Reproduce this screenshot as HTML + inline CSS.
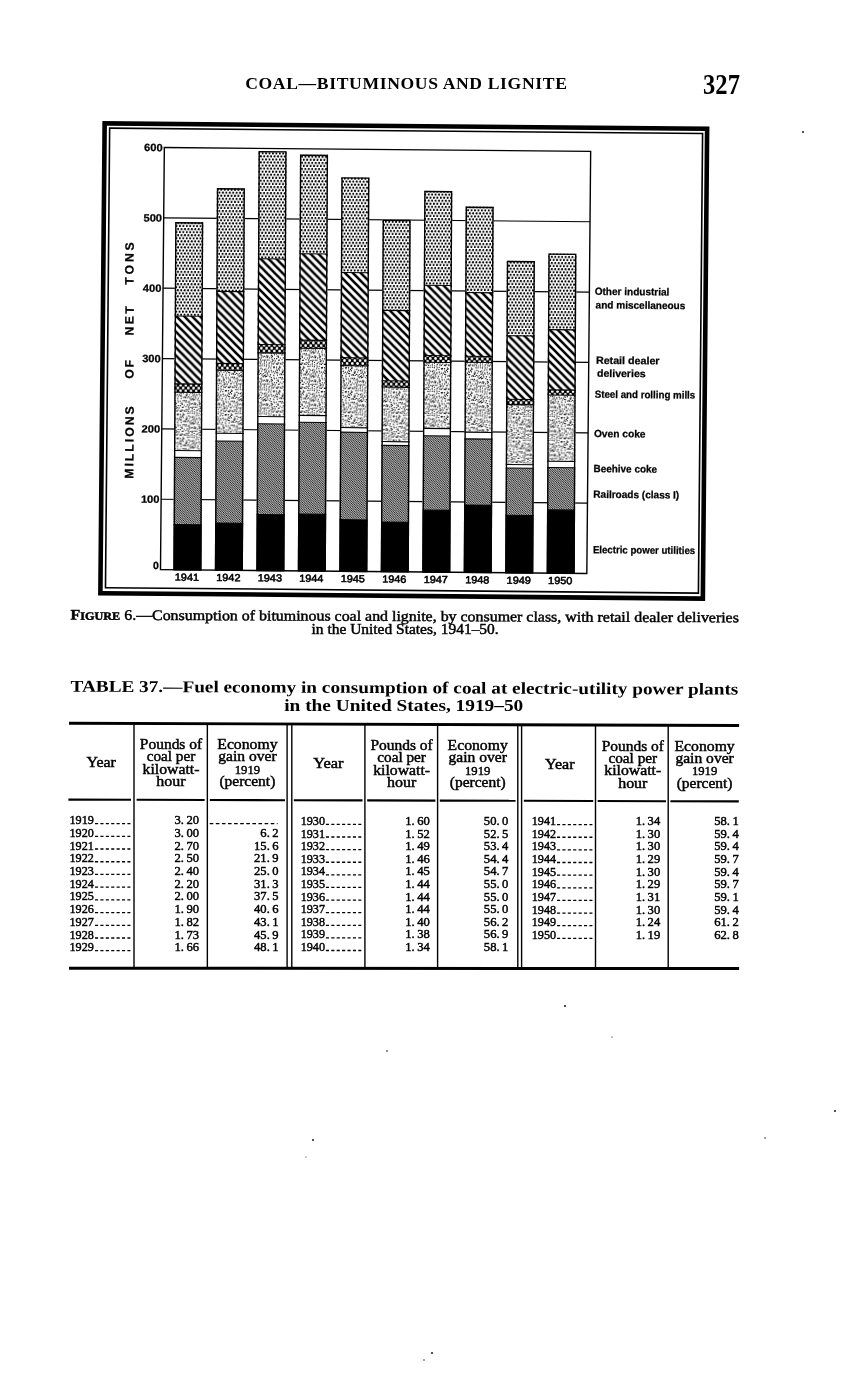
<!DOCTYPE html>
<html><head><meta charset="utf-8"><title>Coal — Bituminous and Lignite</title>
<style>
html,body{margin:0;padding:0;background:#fff;}
body{width:858px;height:1380px;overflow:hidden;}
svg{display:block;}
text{fill:#000;font-family:'Liberation Serif', 'DejaVu Serif', serif;}
text.s{font-family:'Liberation Sans', 'DejaVu Sans', sans-serif;}
text.m{stroke:#000;stroke-width:0.45px;}
text.s{stroke:#000;stroke-width:0.25px;}
text.sn{font-family:'Liberation Sans', 'DejaVu Sans', sans-serif;font-weight:normal;stroke:#000;stroke-width:0.55px;}
</style></head><body>
<svg width="858" height="1380" viewBox="0 0 858 1380">
<defs><pattern id="pDots" patternUnits="userSpaceOnUse" width="3.43" height="6.12">
<circle cx="0.86" cy="1.53" r="1.1" fill="#000"/><circle cx="2.575" cy="4.59" r="1.1" fill="#000"/></pattern><pattern id="pHatch" patternUnits="userSpaceOnUse" width="7.9" height="7.9">
<path d="M-2,-2 L9.9,9.9 M5.9,-2 L9.9,2 M-2,5.9 L2,9.9" stroke="#000" stroke-width="2.6" fill="none"/></pattern><pattern id="pCross" patternUnits="userSpaceOnUse" width="5.2" height="5.8">
<rect width="5.2" height="5.8" fill="#000"/><circle cx="1.3" cy="1.45" r="1.35" fill="#fff"/><circle cx="3.9" cy="4.35" r="1.35" fill="#fff"/></pattern><pattern id="pStip" patternUnits="userSpaceOnUse" width="24" height="24"><circle cx="1.01" cy="1.20" r="0.71" fill="#000"/><circle cx="3.21" cy="1.10" r="0.65" fill="#000"/><circle cx="4.90" cy="1.11" r="0.66" fill="#000"/><circle cx="8.15" cy="0.38" r="0.60" fill="#000"/><circle cx="8.15" cy="24.38" r="0.60" fill="#000"/><circle cx="9.10" cy="1.63" r="0.67" fill="#000"/><circle cx="11.20" cy="1.93" r="0.71" fill="#000"/><circle cx="14.45" cy="1.29" r="0.58" fill="#000"/><circle cx="15.52" cy="1.14" r="0.56" fill="#000"/><circle cx="18.00" cy="0.64" r="0.56" fill="#000"/><circle cx="18.00" cy="24.64" r="0.56" fill="#000"/><circle cx="20.66" cy="0.99" r="0.69" fill="#000"/><circle cx="20.66" cy="24.99" r="0.69" fill="#000"/><circle cx="22.94" cy="1.34" r="0.63" fill="#000"/><circle cx="2.47" cy="3.20" r="0.60" fill="#000"/><circle cx="5.23" cy="4.14" r="0.69" fill="#000"/><circle cx="6.91" cy="2.95" r="0.59" fill="#000"/><circle cx="8.36" cy="2.52" r="0.68" fill="#000"/><circle cx="10.74" cy="3.88" r="0.62" fill="#000"/><circle cx="13.89" cy="3.88" r="0.55" fill="#000"/><circle cx="14.77" cy="3.99" r="0.63" fill="#000"/><circle cx="18.29" cy="3.09" r="0.56" fill="#000"/><circle cx="19.86" cy="3.76" r="0.60" fill="#000"/><circle cx="21.10" cy="2.98" r="0.71" fill="#000"/><circle cx="0.45" cy="2.61" r="0.59" fill="#000"/><circle cx="24.45" cy="2.61" r="0.59" fill="#000"/><circle cx="0.39" cy="4.69" r="0.69" fill="#000"/><circle cx="24.39" cy="4.69" r="0.69" fill="#000"/><circle cx="2.71" cy="5.56" r="0.63" fill="#000"/><circle cx="4.91" cy="5.86" r="0.57" fill="#000"/><circle cx="7.89" cy="4.79" r="0.62" fill="#000"/><circle cx="9.32" cy="5.05" r="0.72" fill="#000"/><circle cx="12.53" cy="5.11" r="0.70" fill="#000"/><circle cx="13.68" cy="5.27" r="0.70" fill="#000"/><circle cx="16.61" cy="4.76" r="0.72" fill="#000"/><circle cx="18.04" cy="5.03" r="0.68" fill="#000"/><circle cx="20.43" cy="5.10" r="0.56" fill="#000"/><circle cx="22.19" cy="5.60" r="0.59" fill="#000"/><circle cx="2.36" cy="7.41" r="0.63" fill="#000"/><circle cx="5.17" cy="7.61" r="0.65" fill="#000"/><circle cx="7.19" cy="7.08" r="0.58" fill="#000"/><circle cx="9.44" cy="8.19" r="0.59" fill="#000"/><circle cx="10.37" cy="8.05" r="0.71" fill="#000"/><circle cx="12.56" cy="8.42" r="0.70" fill="#000"/><circle cx="15.45" cy="7.50" r="0.57" fill="#000"/><circle cx="16.65" cy="8.44" r="0.59" fill="#000"/><circle cx="19.99" cy="7.21" r="0.69" fill="#000"/><circle cx="21.99" cy="7.28" r="0.58" fill="#000"/><circle cx="0.38" cy="6.88" r="0.59" fill="#000"/><circle cx="24.38" cy="6.88" r="0.59" fill="#000"/><circle cx="1.19" cy="10.43" r="0.65" fill="#000"/><circle cx="2.89" cy="10.55" r="0.58" fill="#000"/><circle cx="4.61" cy="9.42" r="0.63" fill="#000"/><circle cx="6.87" cy="9.25" r="0.61" fill="#000"/><circle cx="9.94" cy="9.18" r="0.61" fill="#000"/><circle cx="12.68" cy="10.66" r="0.66" fill="#000"/><circle cx="14.52" cy="9.97" r="0.57" fill="#000"/><circle cx="15.55" cy="8.98" r="0.70" fill="#000"/><circle cx="18.90" cy="10.63" r="0.55" fill="#000"/><circle cx="20.96" cy="9.79" r="0.67" fill="#000"/><circle cx="22.59" cy="10.69" r="0.56" fill="#000"/><circle cx="2.26" cy="12.41" r="0.70" fill="#000"/><circle cx="4.78" cy="12.36" r="0.68" fill="#000"/><circle cx="7.27" cy="11.74" r="0.67" fill="#000"/><circle cx="9.43" cy="12.65" r="0.62" fill="#000"/><circle cx="11.42" cy="12.63" r="0.65" fill="#000"/><circle cx="13.31" cy="11.79" r="0.65" fill="#000"/><circle cx="15.46" cy="11.27" r="0.66" fill="#000"/><circle cx="18.32" cy="12.66" r="0.67" fill="#000"/><circle cx="19.44" cy="12.41" r="0.65" fill="#000"/><circle cx="21.71" cy="12.59" r="0.56" fill="#000"/><circle cx="0.44" cy="11.18" r="0.65" fill="#000"/><circle cx="24.44" cy="11.18" r="0.65" fill="#000"/><circle cx="1.06" cy="13.71" r="0.67" fill="#000"/><circle cx="3.27" cy="14.38" r="0.71" fill="#000"/><circle cx="5.03" cy="13.33" r="0.60" fill="#000"/><circle cx="7.95" cy="13.66" r="0.58" fill="#000"/><circle cx="10.53" cy="14.46" r="0.63" fill="#000"/><circle cx="12.68" cy="13.88" r="0.66" fill="#000"/><circle cx="13.66" cy="14.06" r="0.69" fill="#000"/><circle cx="17.09" cy="14.85" r="0.62" fill="#000"/><circle cx="18.69" cy="13.86" r="0.57" fill="#000"/><circle cx="20.72" cy="14.77" r="0.69" fill="#000"/><circle cx="-0.72" cy="14.97" r="0.60" fill="#000"/><circle cx="23.28" cy="14.97" r="0.60" fill="#000"/><circle cx="1.60" cy="16.28" r="0.60" fill="#000"/><circle cx="3.86" cy="16.21" r="0.66" fill="#000"/><circle cx="6.53" cy="16.04" r="0.69" fill="#000"/><circle cx="9.57" cy="16.28" r="0.56" fill="#000"/><circle cx="10.09" cy="17.01" r="0.56" fill="#000"/><circle cx="13.46" cy="16.49" r="0.60" fill="#000"/><circle cx="15.78" cy="15.52" r="0.57" fill="#000"/><circle cx="17.38" cy="15.53" r="0.69" fill="#000"/><circle cx="19.18" cy="15.74" r="0.56" fill="#000"/><circle cx="22.04" cy="16.27" r="0.66" fill="#000"/><circle cx="0.27" cy="16.90" r="0.71" fill="#000"/><circle cx="24.27" cy="16.90" r="0.71" fill="#000"/><circle cx="1.41" cy="18.02" r="0.63" fill="#000"/><circle cx="2.71" cy="17.69" r="0.63" fill="#000"/><circle cx="5.83" cy="17.99" r="0.60" fill="#000"/><circle cx="7.37" cy="18.89" r="0.64" fill="#000"/><circle cx="10.02" cy="18.99" r="0.62" fill="#000"/><circle cx="12.51" cy="19.25" r="0.56" fill="#000"/><circle cx="14.94" cy="18.93" r="0.57" fill="#000"/><circle cx="16.28" cy="18.76" r="0.70" fill="#000"/><circle cx="18.33" cy="18.67" r="0.70" fill="#000"/><circle cx="21.25" cy="19.32" r="0.63" fill="#000"/><circle cx="-0.83" cy="18.03" r="0.67" fill="#000"/><circle cx="23.17" cy="18.03" r="0.67" fill="#000"/><circle cx="2.74" cy="20.97" r="0.67" fill="#000"/><circle cx="3.86" cy="21.43" r="0.72" fill="#000"/><circle cx="7.38" cy="20.79" r="0.68" fill="#000"/><circle cx="8.41" cy="21.44" r="0.70" fill="#000"/><circle cx="10.64" cy="20.00" r="0.62" fill="#000"/><circle cx="13.18" cy="21.20" r="0.63" fill="#000"/><circle cx="14.45" cy="21.27" r="0.56" fill="#000"/><circle cx="17.98" cy="20.16" r="0.61" fill="#000"/><circle cx="20.14" cy="20.10" r="0.58" fill="#000"/><circle cx="21.85" cy="21.12" r="0.69" fill="#000"/><circle cx="0.33" cy="21.51" r="0.63" fill="#000"/><circle cx="24.33" cy="21.51" r="0.63" fill="#000"/><circle cx="1.87" cy="22.19" r="0.59" fill="#000"/><circle cx="3.32" cy="22.54" r="0.67" fill="#000"/><circle cx="5.70" cy="22.95" r="0.69" fill="#000"/><circle cx="7.74" cy="22.58" r="0.61" fill="#000"/><circle cx="10.42" cy="-0.39" r="0.59" fill="#000"/><circle cx="10.42" cy="23.61" r="0.59" fill="#000"/><circle cx="12.61" cy="-0.27" r="0.64" fill="#000"/><circle cx="12.61" cy="23.73" r="0.64" fill="#000"/><circle cx="14.31" cy="22.39" r="0.64" fill="#000"/><circle cx="16.37" cy="-0.91" r="0.55" fill="#000"/><circle cx="16.37" cy="23.09" r="0.55" fill="#000"/><circle cx="19.36" cy="22.94" r="0.62" fill="#000"/><circle cx="21.25" cy="-0.98" r="0.63" fill="#000"/><circle cx="21.25" cy="23.02" r="0.63" fill="#000"/><circle cx="-0.76" cy="22.15" r="0.64" fill="#000"/><circle cx="23.24" cy="22.15" r="0.64" fill="#000"/></pattern><pattern id="pFine" patternUnits="userSpaceOnUse" width="2.3" height="2.3">
<rect width="2.3" height="2.3" fill="#fff"/><path d="M-1,-1 L3.3,3.3 M1.3,-1 L3.3,1 M-1,1.3 L1,3.3" stroke="#000" stroke-width="0.9" fill="none"/></pattern></defs>
<rect width="858" height="1380" fill="#fff"/>
<text x="245.2" y="89.0" font-size="17.6" font-weight="bold" textLength="321.7" lengthAdjust="spacing">COAL—BITUMINOUS AND LIGNITE</text>
<text x="703.10" y="93.60" font-size="29.6" font-weight="bold" textLength="36.80" lengthAdjust="spacingAndGlyphs">327</text>
<g transform="rotate(0.52 403.75 361.0)"><rect x="102.50" y="126.05" width="602.50" height="469.85" fill="none" stroke="#000" stroke-width="4.6"/>
<rect x="107.55" y="130.85" width="592.95" height="459.55" fill="none" stroke="#000" stroke-width="1.6"/>
<line x1="162.4" y1="501.45" x2="588.75" y2="501.45" stroke="#000" stroke-width="1.2"/>
<line x1="162.4" y1="431.10" x2="588.75" y2="431.10" stroke="#000" stroke-width="1.2"/>
<line x1="162.4" y1="360.75" x2="588.75" y2="360.75" stroke="#000" stroke-width="1.2"/>
<line x1="162.4" y1="290.40" x2="588.75" y2="290.40" stroke="#000" stroke-width="1.2"/>
<line x1="162.4" y1="220.05" x2="588.75" y2="220.05" stroke="#000" stroke-width="1.2"/>
<g transform="matrix(1,0,0.003840,1,-1.3861,0)">
<rect x="174.45" y="224.15" width="28.1" height="347.65" fill="#fff"/>
<rect x="174.45" y="224.15" width="28.1" height="94.00" fill="url(#pDots)"/>
<rect x="174.45" y="318.15" width="28.1" height="67.80" fill="url(#pHatch)"/>
<rect x="174.45" y="385.95" width="28.1" height="8.40" fill="url(#pCross)"/>
<rect x="174.45" y="394.35" width="28.1" height="58.20" fill="url(#pStip)"/>
<rect x="174.45" y="452.55" width="28.1" height="6.90" fill="#fff"/>
<rect x="174.45" y="459.45" width="28.1" height="67.10" fill="url(#pFine)"/>
<rect x="174.45" y="526.55" width="28.1" height="45.25" fill="#000"/>
<line x1="174.45" y1="318.15" x2="202.55" y2="318.15" stroke="#000" stroke-width="1.1"/>
<line x1="174.45" y1="385.95" x2="202.55" y2="385.95" stroke="#000" stroke-width="1.1"/>
<line x1="174.45" y1="394.35" x2="202.55" y2="394.35" stroke="#000" stroke-width="1.1"/>
<line x1="174.45" y1="452.55" x2="202.55" y2="452.55" stroke="#000" stroke-width="1.1"/>
<line x1="174.45" y1="459.45" x2="202.55" y2="459.45" stroke="#000" stroke-width="1.1"/>
<line x1="174.45" y1="526.55" x2="202.55" y2="526.55" stroke="#000" stroke-width="1.1"/>
<rect x="175.15" y="224.85" width="26.70" height="346.95" fill="none" stroke="#000" stroke-width="1.4"/>
<rect x="215.93" y="189.78" width="28.1" height="382.02" fill="#fff"/>
<rect x="215.93" y="189.78" width="28.1" height="103.30" fill="url(#pDots)"/>
<rect x="215.93" y="293.08" width="28.1" height="72.00" fill="url(#pHatch)"/>
<rect x="215.93" y="365.08" width="28.1" height="6.90" fill="url(#pCross)"/>
<rect x="215.93" y="371.98" width="28.1" height="63.00" fill="url(#pStip)"/>
<rect x="215.93" y="434.98" width="28.1" height="7.70" fill="#fff"/>
<rect x="215.93" y="442.68" width="28.1" height="82.00" fill="url(#pFine)"/>
<rect x="215.93" y="524.68" width="28.1" height="47.12" fill="#000"/>
<line x1="215.93" y1="293.08" x2="244.03" y2="293.08" stroke="#000" stroke-width="1.1"/>
<line x1="215.93" y1="365.08" x2="244.03" y2="365.08" stroke="#000" stroke-width="1.1"/>
<line x1="215.93" y1="371.98" x2="244.03" y2="371.98" stroke="#000" stroke-width="1.1"/>
<line x1="215.93" y1="434.98" x2="244.03" y2="434.98" stroke="#000" stroke-width="1.1"/>
<line x1="215.93" y1="442.68" x2="244.03" y2="442.68" stroke="#000" stroke-width="1.1"/>
<line x1="215.93" y1="524.68" x2="244.03" y2="524.68" stroke="#000" stroke-width="1.1"/>
<rect x="216.63" y="190.48" width="26.70" height="381.32" fill="none" stroke="#000" stroke-width="1.4"/>
<rect x="257.41" y="152.30" width="28.1" height="419.50" fill="#fff"/>
<rect x="257.41" y="152.30" width="28.1" height="107.80" fill="url(#pDots)"/>
<rect x="257.41" y="260.10" width="28.1" height="85.70" fill="url(#pHatch)"/>
<rect x="257.41" y="345.80" width="28.1" height="8.40" fill="url(#pCross)"/>
<rect x="257.41" y="354.20" width="28.1" height="63.60" fill="url(#pStip)"/>
<rect x="257.41" y="417.80" width="28.1" height="7.30" fill="#fff"/>
<rect x="257.41" y="425.10" width="28.1" height="90.80" fill="url(#pFine)"/>
<rect x="257.41" y="515.90" width="28.1" height="55.90" fill="#000"/>
<line x1="257.41" y1="260.10" x2="285.51" y2="260.10" stroke="#000" stroke-width="1.1"/>
<line x1="257.41" y1="345.80" x2="285.51" y2="345.80" stroke="#000" stroke-width="1.1"/>
<line x1="257.41" y1="354.20" x2="285.51" y2="354.20" stroke="#000" stroke-width="1.1"/>
<line x1="257.41" y1="417.80" x2="285.51" y2="417.80" stroke="#000" stroke-width="1.1"/>
<line x1="257.41" y1="425.10" x2="285.51" y2="425.10" stroke="#000" stroke-width="1.1"/>
<line x1="257.41" y1="515.90" x2="285.51" y2="515.90" stroke="#000" stroke-width="1.1"/>
<rect x="258.11" y="153.00" width="26.70" height="418.80" fill="none" stroke="#000" stroke-width="1.4"/>
<rect x="298.89" y="155.52" width="28.1" height="416.28" fill="#fff"/>
<rect x="298.89" y="155.52" width="28.1" height="99.20" fill="url(#pDots)"/>
<rect x="298.89" y="254.72" width="28.1" height="86.40" fill="url(#pHatch)"/>
<rect x="298.89" y="341.12" width="28.1" height="8.10" fill="url(#pCross)"/>
<rect x="298.89" y="349.22" width="28.1" height="67.10" fill="url(#pStip)"/>
<rect x="298.89" y="416.32" width="28.1" height="6.90" fill="#fff"/>
<rect x="298.89" y="423.22" width="28.1" height="91.70" fill="url(#pFine)"/>
<rect x="298.89" y="514.92" width="28.1" height="56.88" fill="#000"/>
<line x1="298.89" y1="254.72" x2="326.99" y2="254.72" stroke="#000" stroke-width="1.1"/>
<line x1="298.89" y1="341.12" x2="326.99" y2="341.12" stroke="#000" stroke-width="1.1"/>
<line x1="298.89" y1="349.22" x2="326.99" y2="349.22" stroke="#000" stroke-width="1.1"/>
<line x1="298.89" y1="416.32" x2="326.99" y2="416.32" stroke="#000" stroke-width="1.1"/>
<line x1="298.89" y1="423.22" x2="326.99" y2="423.22" stroke="#000" stroke-width="1.1"/>
<line x1="298.89" y1="514.92" x2="326.99" y2="514.92" stroke="#000" stroke-width="1.1"/>
<rect x="299.59" y="156.22" width="26.70" height="415.58" fill="none" stroke="#000" stroke-width="1.4"/>
<rect x="340.37" y="177.75" width="28.1" height="394.05" fill="#fff"/>
<rect x="340.37" y="177.75" width="28.1" height="95.30" fill="url(#pDots)"/>
<rect x="340.37" y="273.05" width="28.1" height="85.20" fill="url(#pHatch)"/>
<rect x="340.37" y="358.25" width="28.1" height="8.00" fill="url(#pCross)"/>
<rect x="340.37" y="366.25" width="28.1" height="61.90" fill="url(#pStip)"/>
<rect x="340.37" y="428.15" width="28.1" height="4.60" fill="#fff"/>
<rect x="340.37" y="432.75" width="28.1" height="87.50" fill="url(#pFine)"/>
<rect x="340.37" y="520.25" width="28.1" height="51.55" fill="#000"/>
<line x1="340.37" y1="273.05" x2="368.47" y2="273.05" stroke="#000" stroke-width="1.1"/>
<line x1="340.37" y1="358.25" x2="368.47" y2="358.25" stroke="#000" stroke-width="1.1"/>
<line x1="340.37" y1="366.25" x2="368.47" y2="366.25" stroke="#000" stroke-width="1.1"/>
<line x1="340.37" y1="428.15" x2="368.47" y2="428.15" stroke="#000" stroke-width="1.1"/>
<line x1="340.37" y1="432.75" x2="368.47" y2="432.75" stroke="#000" stroke-width="1.1"/>
<line x1="340.37" y1="520.25" x2="368.47" y2="520.25" stroke="#000" stroke-width="1.1"/>
<rect x="341.07" y="178.45" width="26.70" height="393.35" fill="none" stroke="#000" stroke-width="1.4"/>
<rect x="381.85" y="219.77" width="28.1" height="352.03" fill="#fff"/>
<rect x="381.85" y="219.77" width="28.1" height="90.80" fill="url(#pDots)"/>
<rect x="381.85" y="310.57" width="28.1" height="70.40" fill="url(#pHatch)"/>
<rect x="381.85" y="380.97" width="28.1" height="6.30" fill="url(#pCross)"/>
<rect x="381.85" y="387.27" width="28.1" height="54.50" fill="url(#pStip)"/>
<rect x="381.85" y="441.77" width="28.1" height="3.80" fill="#fff"/>
<rect x="381.85" y="445.57" width="28.1" height="76.60" fill="url(#pFine)"/>
<rect x="381.85" y="522.17" width="28.1" height="49.63" fill="#000"/>
<line x1="381.85" y1="310.57" x2="409.95" y2="310.57" stroke="#000" stroke-width="1.1"/>
<line x1="381.85" y1="380.97" x2="409.95" y2="380.97" stroke="#000" stroke-width="1.1"/>
<line x1="381.85" y1="387.27" x2="409.95" y2="387.27" stroke="#000" stroke-width="1.1"/>
<line x1="381.85" y1="441.77" x2="409.95" y2="441.77" stroke="#000" stroke-width="1.1"/>
<line x1="381.85" y1="445.57" x2="409.95" y2="445.57" stroke="#000" stroke-width="1.1"/>
<line x1="381.85" y1="522.17" x2="409.95" y2="522.17" stroke="#000" stroke-width="1.1"/>
<rect x="382.55" y="220.47" width="26.70" height="351.33" fill="none" stroke="#000" stroke-width="1.4"/>
<rect x="423.33" y="190.69" width="28.1" height="381.11" fill="#fff"/>
<rect x="423.33" y="190.69" width="28.1" height="94.40" fill="url(#pDots)"/>
<rect x="423.33" y="285.09" width="28.1" height="70.30" fill="url(#pHatch)"/>
<rect x="423.33" y="355.39" width="28.1" height="6.70" fill="url(#pCross)"/>
<rect x="423.33" y="362.09" width="28.1" height="66.10" fill="url(#pStip)"/>
<rect x="423.33" y="428.19" width="28.1" height="7.40" fill="#fff"/>
<rect x="423.33" y="435.59" width="28.1" height="74.40" fill="url(#pFine)"/>
<rect x="423.33" y="509.99" width="28.1" height="61.81" fill="#000"/>
<line x1="423.33" y1="285.09" x2="451.43" y2="285.09" stroke="#000" stroke-width="1.1"/>
<line x1="423.33" y1="355.39" x2="451.43" y2="355.39" stroke="#000" stroke-width="1.1"/>
<line x1="423.33" y1="362.09" x2="451.43" y2="362.09" stroke="#000" stroke-width="1.1"/>
<line x1="423.33" y1="428.19" x2="451.43" y2="428.19" stroke="#000" stroke-width="1.1"/>
<line x1="423.33" y1="435.59" x2="451.43" y2="435.59" stroke="#000" stroke-width="1.1"/>
<line x1="423.33" y1="509.99" x2="451.43" y2="509.99" stroke="#000" stroke-width="1.1"/>
<rect x="424.03" y="191.39" width="26.70" height="380.41" fill="none" stroke="#000" stroke-width="1.4"/>
<rect x="464.81" y="206.02" width="28.1" height="365.78" fill="#fff"/>
<rect x="464.81" y="206.02" width="28.1" height="86.00" fill="url(#pDots)"/>
<rect x="464.81" y="292.02" width="28.1" height="63.70" fill="url(#pHatch)"/>
<rect x="464.81" y="355.72" width="28.1" height="6.00" fill="url(#pCross)"/>
<rect x="464.81" y="361.72" width="28.1" height="69.90" fill="url(#pStip)"/>
<rect x="464.81" y="431.62" width="28.1" height="6.70" fill="#fff"/>
<rect x="464.81" y="438.32" width="28.1" height="66.10" fill="url(#pFine)"/>
<rect x="464.81" y="504.42" width="28.1" height="67.38" fill="#000"/>
<line x1="464.81" y1="292.02" x2="492.91" y2="292.02" stroke="#000" stroke-width="1.1"/>
<line x1="464.81" y1="355.72" x2="492.91" y2="355.72" stroke="#000" stroke-width="1.1"/>
<line x1="464.81" y1="361.72" x2="492.91" y2="361.72" stroke="#000" stroke-width="1.1"/>
<line x1="464.81" y1="431.62" x2="492.91" y2="431.62" stroke="#000" stroke-width="1.1"/>
<line x1="464.81" y1="438.32" x2="492.91" y2="438.32" stroke="#000" stroke-width="1.1"/>
<line x1="464.81" y1="504.42" x2="492.91" y2="504.42" stroke="#000" stroke-width="1.1"/>
<rect x="465.51" y="206.72" width="26.70" height="365.08" fill="none" stroke="#000" stroke-width="1.4"/>
<rect x="506.29" y="259.84" width="28.1" height="311.96" fill="#fff"/>
<rect x="506.29" y="259.84" width="28.1" height="75.00" fill="url(#pDots)"/>
<rect x="506.29" y="334.84" width="28.1" height="63.50" fill="url(#pHatch)"/>
<rect x="506.29" y="398.34" width="28.1" height="5.30" fill="url(#pCross)"/>
<rect x="506.29" y="403.64" width="28.1" height="59.90" fill="url(#pStip)"/>
<rect x="506.29" y="463.54" width="28.1" height="3.50" fill="#fff"/>
<rect x="506.29" y="467.04" width="28.1" height="47.30" fill="url(#pFine)"/>
<rect x="506.29" y="514.34" width="28.1" height="57.46" fill="#000"/>
<line x1="506.29" y1="334.84" x2="534.39" y2="334.84" stroke="#000" stroke-width="1.1"/>
<line x1="506.29" y1="398.34" x2="534.39" y2="398.34" stroke="#000" stroke-width="1.1"/>
<line x1="506.29" y1="403.64" x2="534.39" y2="403.64" stroke="#000" stroke-width="1.1"/>
<line x1="506.29" y1="463.54" x2="534.39" y2="463.54" stroke="#000" stroke-width="1.1"/>
<line x1="506.29" y1="467.04" x2="534.39" y2="467.04" stroke="#000" stroke-width="1.1"/>
<line x1="506.29" y1="514.34" x2="534.39" y2="514.34" stroke="#000" stroke-width="1.1"/>
<rect x="506.99" y="260.54" width="26.70" height="311.26" fill="none" stroke="#000" stroke-width="1.4"/>
<rect x="547.77" y="252.07" width="28.1" height="319.73" fill="#fff"/>
<rect x="547.77" y="252.07" width="28.1" height="76.20" fill="url(#pDots)"/>
<rect x="547.77" y="328.27" width="28.1" height="60.30" fill="url(#pHatch)"/>
<rect x="547.77" y="388.57" width="28.1" height="5.10" fill="url(#pCross)"/>
<rect x="547.77" y="393.67" width="28.1" height="66.20" fill="url(#pStip)"/>
<rect x="547.77" y="459.87" width="28.1" height="6.30" fill="#fff"/>
<rect x="547.77" y="466.17" width="28.1" height="42.40" fill="url(#pFine)"/>
<rect x="547.77" y="508.57" width="28.1" height="63.23" fill="#000"/>
<line x1="547.77" y1="328.27" x2="575.87" y2="328.27" stroke="#000" stroke-width="1.1"/>
<line x1="547.77" y1="388.57" x2="575.87" y2="388.57" stroke="#000" stroke-width="1.1"/>
<line x1="547.77" y1="393.67" x2="575.87" y2="393.67" stroke="#000" stroke-width="1.1"/>
<line x1="547.77" y1="459.87" x2="575.87" y2="459.87" stroke="#000" stroke-width="1.1"/>
<line x1="547.77" y1="466.17" x2="575.87" y2="466.17" stroke="#000" stroke-width="1.1"/>
<line x1="547.77" y1="508.57" x2="575.87" y2="508.57" stroke="#000" stroke-width="1.1"/>
<rect x="548.47" y="252.77" width="26.70" height="319.03" fill="none" stroke="#000" stroke-width="1.4"/>
</g>
<rect x="162.4" y="149.7" width="426.35" height="422.10" fill="none" stroke="#000" stroke-width="1.4"/>
<text x="160.80" y="571.40" font-size="10.5" font-weight="bold" class="s" text-anchor="end" textLength="5.80" lengthAdjust="spacingAndGlyphs">0</text>
<text x="160.80" y="505.15" font-size="10.5" font-weight="bold" class="s" text-anchor="end" textLength="18.60" lengthAdjust="spacingAndGlyphs">100</text>
<text x="160.80" y="434.80" font-size="10.5" font-weight="bold" class="s" text-anchor="end" textLength="18.60" lengthAdjust="spacingAndGlyphs">200</text>
<text x="160.80" y="364.45" font-size="10.5" font-weight="bold" class="s" text-anchor="end" textLength="18.60" lengthAdjust="spacingAndGlyphs">300</text>
<text x="160.80" y="294.10" font-size="10.5" font-weight="bold" class="s" text-anchor="end" textLength="18.60" lengthAdjust="spacingAndGlyphs">400</text>
<text x="160.80" y="223.75" font-size="10.5" font-weight="bold" class="s" text-anchor="end" textLength="18.60" lengthAdjust="spacingAndGlyphs">500</text>
<text x="160.80" y="153.40" font-size="10.5" font-weight="bold" class="s" text-anchor="end" textLength="18.60" lengthAdjust="spacingAndGlyphs">600</text>
<text x="176.80" y="582.70" font-size="10.3" class="sn" textLength="24.20" lengthAdjust="spacingAndGlyphs">1941</text>
<text x="218.28" y="582.70" font-size="10.3" class="sn" textLength="24.20" lengthAdjust="spacingAndGlyphs">1942</text>
<text x="259.76" y="582.70" font-size="10.3" class="sn" textLength="24.20" lengthAdjust="spacingAndGlyphs">1943</text>
<text x="301.24" y="582.70" font-size="10.3" class="sn" textLength="24.20" lengthAdjust="spacingAndGlyphs">1944</text>
<text x="342.72" y="582.70" font-size="10.3" class="sn" textLength="24.20" lengthAdjust="spacingAndGlyphs">1945</text>
<text x="384.20" y="582.70" font-size="10.3" class="sn" textLength="24.20" lengthAdjust="spacingAndGlyphs">1946</text>
<text x="425.68" y="582.70" font-size="10.3" class="sn" textLength="24.20" lengthAdjust="spacingAndGlyphs">1947</text>
<text x="467.16" y="582.70" font-size="10.3" class="sn" textLength="24.20" lengthAdjust="spacingAndGlyphs">1948</text>
<text x="508.64" y="582.70" font-size="10.3" class="sn" textLength="24.20" lengthAdjust="spacingAndGlyphs">1949</text>
<text x="550.12" y="582.70" font-size="10.3" class="sn" textLength="24.20" lengthAdjust="spacingAndGlyphs">1950</text>
<text transform="translate(134.34,481.19) rotate(-90)" x="0" y="0" font-size="12.2" font-weight="bold" class="s" textLength="72.50" lengthAdjust="spacing">MILLIONS</text>
<text transform="translate(133.68,381.29) rotate(-90)" x="0" y="0" font-size="12.2" font-weight="bold" class="s" textLength="18.80" lengthAdjust="spacing">OF</text>
<text transform="translate(133.24,337.99) rotate(-90)" x="0" y="0" font-size="12.2" font-weight="bold" class="s" textLength="29.20" lengthAdjust="spacing">NET</text>
<text transform="translate(132.71,287.09) rotate(-90)" x="0" y="0" font-size="12.2" font-weight="bold" class="s" textLength="42.40" lengthAdjust="spacing">TONS</text>
<text x="594.10" y="293.13" font-size="10.4" font-weight="bold" class="s" textLength="74.70" lengthAdjust="spacingAndGlyphs">Other industrial</text>
<text x="595.13" y="306.65" font-size="10.4" font-weight="bold" class="s" textLength="89.70" lengthAdjust="spacingAndGlyphs">and miscellaneous</text>
<text x="595.93" y="362.07" font-size="10.4" font-weight="bold" class="s" textLength="63.60" lengthAdjust="spacingAndGlyphs">Retail dealer</text>
<text x="597.15" y="375.03" font-size="10.4" font-weight="bold" class="s" textLength="48.60" lengthAdjust="spacingAndGlyphs">deliveries</text>
<text x="595.04" y="396.01" font-size="10.4" font-weight="bold" class="s" textLength="100.50" lengthAdjust="spacingAndGlyphs">Steel and rolling mills</text>
<text x="594.59" y="435.34" font-size="10.4" font-weight="bold" class="s" textLength="51.60" lengthAdjust="spacingAndGlyphs">Oven coke</text>
<text x="594.61" y="470.39" font-size="10.4" font-weight="bold" class="s" textLength="63.40" lengthAdjust="spacingAndGlyphs">Beehive coke</text>
<text x="594.55" y="496.09" font-size="10.4" font-weight="bold" class="s" textLength="85.90" lengthAdjust="spacingAndGlyphs">Railroads (class I)</text>
<text x="594.65" y="551.42" font-size="10.4" font-weight="bold" class="s" textLength="102.30" lengthAdjust="spacingAndGlyphs">Electric power utilities</text></g>
<text class="m" x="70.5" y="619.6" font-size="14.6" textLength="668.4" lengthAdjust="spacingAndGlyphs" transform="rotate(0.23 70.5 619.6)"><tspan font-weight="bold">F</tspan><tspan font-weight="bold" font-size="11.2">IGURE</tspan> 6.—Consumption of bituminous coal and lignite, by consumer class, with retail dealer deliveries</text>
<text x="311.50" y="634.10" font-size="14.6" class="m" textLength="187.20" lengthAdjust="spacingAndGlyphs">in the United States, 1941–50.</text>
<text x="70.5" y="691.7" font-size="16.6" font-weight="bold" textLength="667.8" lengthAdjust="spacingAndGlyphs" transform="rotate(0.25 70.5 691.7)">TABLE 37.—Fuel economy in consumption of coal at electric-utility power plants</text>
<text x="284.20" y="710.50" font-size="16.6" font-weight="bold" textLength="239.10" lengthAdjust="spacingAndGlyphs">in the United States, 1919–50</text>
<line x1="69" y1="723.2" x2="739.1" y2="725.5" stroke="#000" stroke-width="2.9"/>
<line x1="69" y1="968.2" x2="739.1" y2="968.5" stroke="#000" stroke-width="3"/>
<line x1="134.0" y1="724.5" x2="134.0" y2="967.5" stroke="#000" stroke-width="1.4"/>
<line x1="207.35" y1="724.5" x2="207.35" y2="967.5" stroke="#000" stroke-width="1.4"/>
<line x1="287.1" y1="724.5" x2="287.1" y2="967.5" stroke="#000" stroke-width="1.4"/>
<line x1="291.8" y1="724.5" x2="291.8" y2="967.5" stroke="#000" stroke-width="1.4"/>
<line x1="364.9" y1="724.5" x2="364.9" y2="967.5" stroke="#000" stroke-width="1.4"/>
<line x1="437.6" y1="724.5" x2="437.6" y2="967.5" stroke="#000" stroke-width="1.4"/>
<line x1="517.8" y1="724.5" x2="517.8" y2="967.5" stroke="#000" stroke-width="1.4"/>
<line x1="521.6" y1="724.5" x2="521.6" y2="967.5" stroke="#000" stroke-width="1.4"/>
<line x1="595.5" y1="724.5" x2="595.5" y2="967.5" stroke="#000" stroke-width="1.4"/>
<line x1="668.2" y1="724.5" x2="668.2" y2="967.5" stroke="#000" stroke-width="1.4"/>
<line x1="68.4" y1="799.60" x2="131.0" y2="799.77" stroke="#000" stroke-width="2.1"/>
<line x1="136.6" y1="799.78" x2="204.6" y2="799.96" stroke="#000" stroke-width="2.1"/>
<line x1="209.8" y1="799.98" x2="285.0" y2="800.18" stroke="#000" stroke-width="2.1"/>
<line x1="293.8" y1="800.20" x2="362.5" y2="800.39" stroke="#000" stroke-width="2.1"/>
<line x1="367.2" y1="800.40" x2="435.4" y2="800.58" stroke="#000" stroke-width="2.1"/>
<line x1="439.8" y1="800.60" x2="515.6" y2="800.80" stroke="#000" stroke-width="2.1"/>
<line x1="523.8" y1="800.82" x2="593.2" y2="801.01" stroke="#000" stroke-width="2.1"/>
<line x1="597.7" y1="801.02" x2="666.0" y2="801.20" stroke="#000" stroke-width="2.1"/>
<line x1="670.4" y1="801.22" x2="738.8" y2="801.40" stroke="#000" stroke-width="2.1"/>
<text x="86.60" y="767.20" font-size="14.2" class="m" textLength="29.30" lengthAdjust="spacingAndGlyphs">Year</text>
<text x="139.85" y="748.60" font-size="14.2" class="m" textLength="62.30" lengthAdjust="spacingAndGlyphs">Pounds of</text>
<text x="146.65" y="761.00" font-size="14.2" class="m" textLength="48.70" lengthAdjust="spacingAndGlyphs">coal per</text>
<text x="142.55" y="773.50" font-size="14.2" class="m" textLength="56.90" lengthAdjust="spacingAndGlyphs">kilowatt-</text>
<text x="156.35" y="785.80" font-size="14.2" class="m" textLength="29.30" lengthAdjust="spacingAndGlyphs">hour</text>
<text x="217.30" y="748.60" font-size="14.2" class="m" textLength="60.20" lengthAdjust="spacingAndGlyphs">Economy</text>
<text x="218.20" y="761.00" font-size="14.2" class="m" textLength="58.40" lengthAdjust="spacingAndGlyphs">gain over</text>
<text x="234.75" y="773.50" font-size="12.9" class="m" textLength="25.30" lengthAdjust="spacingAndGlyphs">1919</text>
<text x="219.45" y="785.80" font-size="14.2" class="m" textLength="55.90" lengthAdjust="spacingAndGlyphs">(percent)</text>
<text x="313.30" y="768.20" font-size="14.2" class="m" textLength="30.30" lengthAdjust="spacingAndGlyphs">Year</text>
<text x="370.45" y="749.60" font-size="14.2" class="m" textLength="62.30" lengthAdjust="spacingAndGlyphs">Pounds of</text>
<text x="377.25" y="762.00" font-size="14.2" class="m" textLength="48.70" lengthAdjust="spacingAndGlyphs">coal per</text>
<text x="373.15" y="774.50" font-size="14.2" class="m" textLength="56.90" lengthAdjust="spacingAndGlyphs">kilowatt-</text>
<text x="386.95" y="786.80" font-size="14.2" class="m" textLength="29.30" lengthAdjust="spacingAndGlyphs">hour</text>
<text x="447.60" y="749.60" font-size="14.2" class="m" textLength="60.20" lengthAdjust="spacingAndGlyphs">Economy</text>
<text x="448.50" y="762.00" font-size="14.2" class="m" textLength="58.40" lengthAdjust="spacingAndGlyphs">gain over</text>
<text x="465.05" y="774.50" font-size="12.9" class="m" textLength="25.30" lengthAdjust="spacingAndGlyphs">1919</text>
<text x="449.75" y="786.80" font-size="14.2" class="m" textLength="55.90" lengthAdjust="spacingAndGlyphs">(percent)</text>
<text x="544.90" y="769.10" font-size="14.2" class="m" textLength="29.70" lengthAdjust="spacingAndGlyphs">Year</text>
<text x="601.65" y="750.50" font-size="14.2" class="m" textLength="62.30" lengthAdjust="spacingAndGlyphs">Pounds of</text>
<text x="608.45" y="762.90" font-size="14.2" class="m" textLength="48.70" lengthAdjust="spacingAndGlyphs">coal per</text>
<text x="604.35" y="775.40" font-size="14.2" class="m" textLength="56.90" lengthAdjust="spacingAndGlyphs">kilowatt-</text>
<text x="618.15" y="787.70" font-size="14.2" class="m" textLength="29.30" lengthAdjust="spacingAndGlyphs">hour</text>
<text x="674.50" y="750.50" font-size="14.2" class="m" textLength="60.20" lengthAdjust="spacingAndGlyphs">Economy</text>
<text x="675.40" y="762.90" font-size="14.2" class="m" textLength="58.40" lengthAdjust="spacingAndGlyphs">gain over</text>
<text x="691.95" y="775.40" font-size="12.9" class="m" textLength="25.30" lengthAdjust="spacingAndGlyphs">1919</text>
<text x="676.65" y="787.70" font-size="14.2" class="m" textLength="55.90" lengthAdjust="spacingAndGlyphs">(percent)</text>
<text x="69.50" y="824.20" font-size="12.6" class="m" textLength="24.30" lengthAdjust="spacingAndGlyphs">1919</text>
<line x1="95.0" y1="823.60" x2="130.4" y2="823.60" stroke="#000" stroke-width="1.3" stroke-dasharray="3.1 2.3"/>
<text x="199.00" y="824.20" font-size="12.6" class="m" text-anchor="end">3. 20</text>
<line x1="209.7" y1="823.60" x2="277.6" y2="823.60" stroke="#000" stroke-width="1.3" stroke-dasharray="3.6 2.5"/>
<text x="69.50" y="836.91" font-size="12.6" class="m" textLength="24.30" lengthAdjust="spacingAndGlyphs">1920</text>
<line x1="95.0" y1="836.31" x2="130.4" y2="836.31" stroke="#000" stroke-width="1.3" stroke-dasharray="3.1 2.3"/>
<text x="199.00" y="836.91" font-size="12.6" class="m" text-anchor="end">3. 00</text>
<text x="278.60" y="836.91" font-size="12.6" class="m" text-anchor="end">6. 2</text>
<text x="69.50" y="849.62" font-size="12.6" class="m" textLength="24.30" lengthAdjust="spacingAndGlyphs">1921</text>
<line x1="95.0" y1="849.02" x2="130.4" y2="849.02" stroke="#000" stroke-width="1.3" stroke-dasharray="3.1 2.3"/>
<text x="199.00" y="849.62" font-size="12.6" class="m" text-anchor="end">2. 70</text>
<text x="278.60" y="849.62" font-size="12.6" class="m" text-anchor="end">15. 6</text>
<text x="69.50" y="862.33" font-size="12.6" class="m" textLength="24.30" lengthAdjust="spacingAndGlyphs">1922</text>
<line x1="95.0" y1="861.73" x2="130.4" y2="861.73" stroke="#000" stroke-width="1.3" stroke-dasharray="3.1 2.3"/>
<text x="199.00" y="862.33" font-size="12.6" class="m" text-anchor="end">2. 50</text>
<text x="278.60" y="862.33" font-size="12.6" class="m" text-anchor="end">21. 9</text>
<text x="69.50" y="875.04" font-size="12.6" class="m" textLength="24.30" lengthAdjust="spacingAndGlyphs">1923</text>
<line x1="95.0" y1="874.44" x2="130.4" y2="874.44" stroke="#000" stroke-width="1.3" stroke-dasharray="3.1 2.3"/>
<text x="199.00" y="875.04" font-size="12.6" class="m" text-anchor="end">2. 40</text>
<text x="278.60" y="875.04" font-size="12.6" class="m" text-anchor="end">25. 0</text>
<text x="69.50" y="887.75" font-size="12.6" class="m" textLength="24.30" lengthAdjust="spacingAndGlyphs">1924</text>
<line x1="95.0" y1="887.15" x2="130.4" y2="887.15" stroke="#000" stroke-width="1.3" stroke-dasharray="3.1 2.3"/>
<text x="199.00" y="887.75" font-size="12.6" class="m" text-anchor="end">2. 20</text>
<text x="278.60" y="887.75" font-size="12.6" class="m" text-anchor="end">31. 3</text>
<text x="69.50" y="900.46" font-size="12.6" class="m" textLength="24.30" lengthAdjust="spacingAndGlyphs">1925</text>
<line x1="95.0" y1="899.86" x2="130.4" y2="899.86" stroke="#000" stroke-width="1.3" stroke-dasharray="3.1 2.3"/>
<text x="199.00" y="900.46" font-size="12.6" class="m" text-anchor="end">2. 00</text>
<text x="278.60" y="900.46" font-size="12.6" class="m" text-anchor="end">37. 5</text>
<text x="69.50" y="913.17" font-size="12.6" class="m" textLength="24.30" lengthAdjust="spacingAndGlyphs">1926</text>
<line x1="95.0" y1="912.57" x2="130.4" y2="912.57" stroke="#000" stroke-width="1.3" stroke-dasharray="3.1 2.3"/>
<text x="199.00" y="913.17" font-size="12.6" class="m" text-anchor="end">1. 90</text>
<text x="278.60" y="913.17" font-size="12.6" class="m" text-anchor="end">40. 6</text>
<text x="69.50" y="925.88" font-size="12.6" class="m" textLength="24.30" lengthAdjust="spacingAndGlyphs">1927</text>
<line x1="95.0" y1="925.28" x2="130.4" y2="925.28" stroke="#000" stroke-width="1.3" stroke-dasharray="3.1 2.3"/>
<text x="199.00" y="925.88" font-size="12.6" class="m" text-anchor="end">1. 82</text>
<text x="278.60" y="925.88" font-size="12.6" class="m" text-anchor="end">43. 1</text>
<text x="69.50" y="938.59" font-size="12.6" class="m" textLength="24.30" lengthAdjust="spacingAndGlyphs">1928</text>
<line x1="95.0" y1="937.99" x2="130.4" y2="937.99" stroke="#000" stroke-width="1.3" stroke-dasharray="3.1 2.3"/>
<text x="199.00" y="938.59" font-size="12.6" class="m" text-anchor="end">1. 73</text>
<text x="278.60" y="938.59" font-size="12.6" class="m" text-anchor="end">45. 9</text>
<text x="69.50" y="951.30" font-size="12.6" class="m" textLength="24.30" lengthAdjust="spacingAndGlyphs">1929</text>
<line x1="95.0" y1="950.70" x2="130.4" y2="950.70" stroke="#000" stroke-width="1.3" stroke-dasharray="3.1 2.3"/>
<text x="199.00" y="951.30" font-size="12.6" class="m" text-anchor="end">1. 66</text>
<text x="278.60" y="951.30" font-size="12.6" class="m" text-anchor="end">48. 1</text>
<text x="300.70" y="825.00" font-size="12.6" class="m" textLength="24.30" lengthAdjust="spacingAndGlyphs">1930</text>
<line x1="325.9" y1="824.40" x2="361.3" y2="824.40" stroke="#000" stroke-width="1.3" stroke-dasharray="3.1 2.3"/>
<text x="429.80" y="825.00" font-size="12.6" class="m" text-anchor="end">1. 60</text>
<text x="508.40" y="825.00" font-size="12.6" class="m" text-anchor="end">50. 0</text>
<text x="300.70" y="837.61" font-size="12.6" class="m" textLength="24.30" lengthAdjust="spacingAndGlyphs">1931</text>
<line x1="325.9" y1="837.01" x2="361.3" y2="837.01" stroke="#000" stroke-width="1.3" stroke-dasharray="3.1 2.3"/>
<text x="429.80" y="837.61" font-size="12.6" class="m" text-anchor="end">1. 52</text>
<text x="508.40" y="837.61" font-size="12.6" class="m" text-anchor="end">52. 5</text>
<text x="300.70" y="850.22" font-size="12.6" class="m" textLength="24.30" lengthAdjust="spacingAndGlyphs">1932</text>
<line x1="325.9" y1="849.62" x2="361.3" y2="849.62" stroke="#000" stroke-width="1.3" stroke-dasharray="3.1 2.3"/>
<text x="429.80" y="850.22" font-size="12.6" class="m" text-anchor="end">1. 49</text>
<text x="508.40" y="850.22" font-size="12.6" class="m" text-anchor="end">53. 4</text>
<text x="300.70" y="862.83" font-size="12.6" class="m" textLength="24.30" lengthAdjust="spacingAndGlyphs">1933</text>
<line x1="325.9" y1="862.23" x2="361.3" y2="862.23" stroke="#000" stroke-width="1.3" stroke-dasharray="3.1 2.3"/>
<text x="429.80" y="862.83" font-size="12.6" class="m" text-anchor="end">1. 46</text>
<text x="508.40" y="862.83" font-size="12.6" class="m" text-anchor="end">54. 4</text>
<text x="300.70" y="875.44" font-size="12.6" class="m" textLength="24.30" lengthAdjust="spacingAndGlyphs">1934</text>
<line x1="325.9" y1="874.84" x2="361.3" y2="874.84" stroke="#000" stroke-width="1.3" stroke-dasharray="3.1 2.3"/>
<text x="429.80" y="875.44" font-size="12.6" class="m" text-anchor="end">1. 45</text>
<text x="508.40" y="875.44" font-size="12.6" class="m" text-anchor="end">54. 7</text>
<text x="300.70" y="888.05" font-size="12.6" class="m" textLength="24.30" lengthAdjust="spacingAndGlyphs">1935</text>
<line x1="325.9" y1="887.45" x2="361.3" y2="887.45" stroke="#000" stroke-width="1.3" stroke-dasharray="3.1 2.3"/>
<text x="429.80" y="888.05" font-size="12.6" class="m" text-anchor="end">1. 44</text>
<text x="508.40" y="888.05" font-size="12.6" class="m" text-anchor="end">55. 0</text>
<text x="300.70" y="900.66" font-size="12.6" class="m" textLength="24.30" lengthAdjust="spacingAndGlyphs">1936</text>
<line x1="325.9" y1="900.06" x2="361.3" y2="900.06" stroke="#000" stroke-width="1.3" stroke-dasharray="3.1 2.3"/>
<text x="429.80" y="900.66" font-size="12.6" class="m" text-anchor="end">1. 44</text>
<text x="508.40" y="900.66" font-size="12.6" class="m" text-anchor="end">55. 0</text>
<text x="300.70" y="913.27" font-size="12.6" class="m" textLength="24.30" lengthAdjust="spacingAndGlyphs">1937</text>
<line x1="325.9" y1="912.67" x2="361.3" y2="912.67" stroke="#000" stroke-width="1.3" stroke-dasharray="3.1 2.3"/>
<text x="429.80" y="913.27" font-size="12.6" class="m" text-anchor="end">1. 44</text>
<text x="508.40" y="913.27" font-size="12.6" class="m" text-anchor="end">55. 0</text>
<text x="300.70" y="925.88" font-size="12.6" class="m" textLength="24.30" lengthAdjust="spacingAndGlyphs">1938</text>
<line x1="325.9" y1="925.28" x2="361.3" y2="925.28" stroke="#000" stroke-width="1.3" stroke-dasharray="3.1 2.3"/>
<text x="429.80" y="925.88" font-size="12.6" class="m" text-anchor="end">1. 40</text>
<text x="508.40" y="925.88" font-size="12.6" class="m" text-anchor="end">56. 2</text>
<text x="300.70" y="938.49" font-size="12.6" class="m" textLength="24.30" lengthAdjust="spacingAndGlyphs">1939</text>
<line x1="325.9" y1="937.89" x2="361.3" y2="937.89" stroke="#000" stroke-width="1.3" stroke-dasharray="3.1 2.3"/>
<text x="429.80" y="938.49" font-size="12.6" class="m" text-anchor="end">1. 38</text>
<text x="508.40" y="938.49" font-size="12.6" class="m" text-anchor="end">56. 9</text>
<text x="300.70" y="951.10" font-size="12.6" class="m" textLength="24.30" lengthAdjust="spacingAndGlyphs">1940</text>
<line x1="325.9" y1="950.50" x2="361.3" y2="950.50" stroke="#000" stroke-width="1.3" stroke-dasharray="3.1 2.3"/>
<text x="429.80" y="951.10" font-size="12.6" class="m" text-anchor="end">1. 34</text>
<text x="508.40" y="951.10" font-size="12.6" class="m" text-anchor="end">58. 1</text>
<text x="531.80" y="825.20" font-size="12.6" class="m" textLength="24.30" lengthAdjust="spacingAndGlyphs">1941</text>
<line x1="557.0" y1="824.60" x2="592.4" y2="824.60" stroke="#000" stroke-width="1.3" stroke-dasharray="3.1 2.3"/>
<text x="660.20" y="825.20" font-size="12.6" class="m" text-anchor="end">1. 34</text>
<text x="738.70" y="825.20" font-size="12.6" class="m" text-anchor="end">58. 1</text>
<text x="531.80" y="837.84" font-size="12.6" class="m" textLength="24.30" lengthAdjust="spacingAndGlyphs">1942</text>
<line x1="557.0" y1="837.24" x2="592.4" y2="837.24" stroke="#000" stroke-width="1.3" stroke-dasharray="3.1 2.3"/>
<text x="660.20" y="837.84" font-size="12.6" class="m" text-anchor="end">1. 30</text>
<text x="738.70" y="837.84" font-size="12.6" class="m" text-anchor="end">59. 4</text>
<text x="531.80" y="850.48" font-size="12.6" class="m" textLength="24.30" lengthAdjust="spacingAndGlyphs">1943</text>
<line x1="557.0" y1="849.88" x2="592.4" y2="849.88" stroke="#000" stroke-width="1.3" stroke-dasharray="3.1 2.3"/>
<text x="660.20" y="850.48" font-size="12.6" class="m" text-anchor="end">1. 30</text>
<text x="738.70" y="850.48" font-size="12.6" class="m" text-anchor="end">59. 4</text>
<text x="531.80" y="863.12" font-size="12.6" class="m" textLength="24.30" lengthAdjust="spacingAndGlyphs">1944</text>
<line x1="557.0" y1="862.52" x2="592.4" y2="862.52" stroke="#000" stroke-width="1.3" stroke-dasharray="3.1 2.3"/>
<text x="660.20" y="863.12" font-size="12.6" class="m" text-anchor="end">1. 29</text>
<text x="738.70" y="863.12" font-size="12.6" class="m" text-anchor="end">59. 7</text>
<text x="531.80" y="875.76" font-size="12.6" class="m" textLength="24.30" lengthAdjust="spacingAndGlyphs">1945</text>
<line x1="557.0" y1="875.16" x2="592.4" y2="875.16" stroke="#000" stroke-width="1.3" stroke-dasharray="3.1 2.3"/>
<text x="660.20" y="875.76" font-size="12.6" class="m" text-anchor="end">1. 30</text>
<text x="738.70" y="875.76" font-size="12.6" class="m" text-anchor="end">59. 4</text>
<text x="531.80" y="888.40" font-size="12.6" class="m" textLength="24.30" lengthAdjust="spacingAndGlyphs">1946</text>
<line x1="557.0" y1="887.80" x2="592.4" y2="887.80" stroke="#000" stroke-width="1.3" stroke-dasharray="3.1 2.3"/>
<text x="660.20" y="888.40" font-size="12.6" class="m" text-anchor="end">1. 29</text>
<text x="738.70" y="888.40" font-size="12.6" class="m" text-anchor="end">59. 7</text>
<text x="531.80" y="901.04" font-size="12.6" class="m" textLength="24.30" lengthAdjust="spacingAndGlyphs">1947</text>
<line x1="557.0" y1="900.44" x2="592.4" y2="900.44" stroke="#000" stroke-width="1.3" stroke-dasharray="3.1 2.3"/>
<text x="660.20" y="901.04" font-size="12.6" class="m" text-anchor="end">1. 31</text>
<text x="738.70" y="901.04" font-size="12.6" class="m" text-anchor="end">59. 1</text>
<text x="531.80" y="913.68" font-size="12.6" class="m" textLength="24.30" lengthAdjust="spacingAndGlyphs">1948</text>
<line x1="557.0" y1="913.08" x2="592.4" y2="913.08" stroke="#000" stroke-width="1.3" stroke-dasharray="3.1 2.3"/>
<text x="660.20" y="913.68" font-size="12.6" class="m" text-anchor="end">1. 30</text>
<text x="738.70" y="913.68" font-size="12.6" class="m" text-anchor="end">59. 4</text>
<text x="531.80" y="926.32" font-size="12.6" class="m" textLength="24.30" lengthAdjust="spacingAndGlyphs">1949</text>
<line x1="557.0" y1="925.72" x2="592.4" y2="925.72" stroke="#000" stroke-width="1.3" stroke-dasharray="3.1 2.3"/>
<text x="660.20" y="926.32" font-size="12.6" class="m" text-anchor="end">1. 24</text>
<text x="738.70" y="926.32" font-size="12.6" class="m" text-anchor="end">61. 2</text>
<text x="531.80" y="938.96" font-size="12.6" class="m" textLength="24.30" lengthAdjust="spacingAndGlyphs">1950</text>
<line x1="557.0" y1="938.36" x2="592.4" y2="938.36" stroke="#000" stroke-width="1.3" stroke-dasharray="3.1 2.3"/>
<text x="660.20" y="938.96" font-size="12.6" class="m" text-anchor="end">1. 19</text>
<text x="738.70" y="938.96" font-size="12.6" class="m" text-anchor="end">62. 8</text>
<circle cx="565" cy="1006" r="0.9" fill="#000"/>
<circle cx="387" cy="1051" r="0.8" fill="#000"/>
<circle cx="612" cy="1037" r="0.6" fill="#000"/>
<circle cx="313" cy="1140" r="0.9" fill="#000"/>
<circle cx="835" cy="1111" r="0.9" fill="#000"/>
<circle cx="765" cy="1138" r="0.7" fill="#000"/>
<circle cx="432" cy="1353" r="0.9" fill="#000"/>
<circle cx="424" cy="1360" r="0.7" fill="#000"/>
<circle cx="803" cy="132" r="0.9" fill="#000"/>
<circle cx="306" cy="1157" r="0.5" fill="#000"/>
</svg>
</body></html>
